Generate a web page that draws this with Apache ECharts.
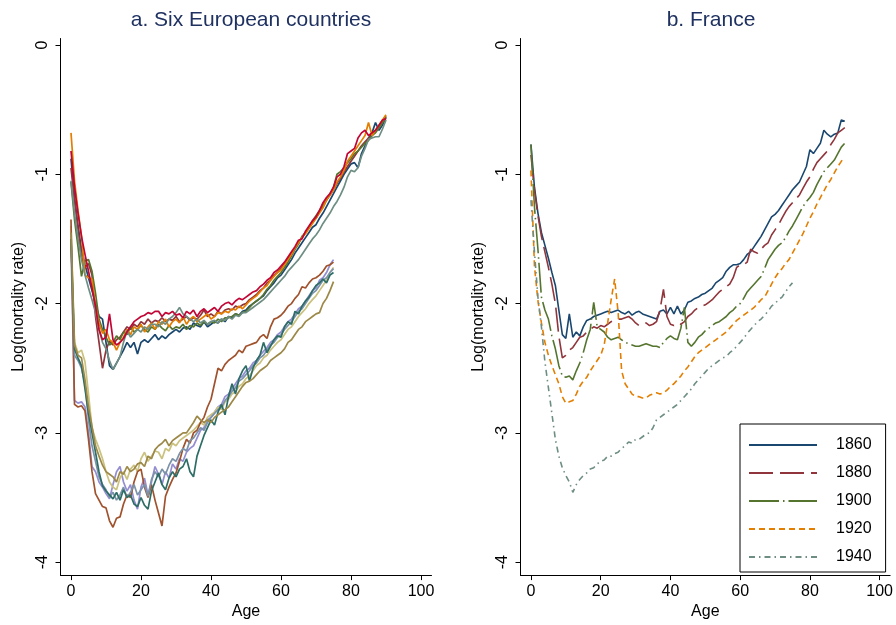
<!DOCTYPE html>
<html><head><meta charset="utf-8">
<script src="https://cdn.jsdelivr.net/npm/echarts@6/dist/echarts.min.js"></script>
<style>html,body{margin:0;padding:0;background:#fff}#c{width:896px;height:625px}</style>
</head><body><div id="c"></div>
<script>
// Panel a: six European countries, older cohort (ages 0-90)
const upperNavy = [-0.88,-1.18,-1.40,-1.58,-1.70,-1.80,-1.90,-2.00,-2.10,-2.12,-2.30,-2.48,-2.51,-2.46,-2.41,-2.36,-2.30,-2.34,-2.30,-2.39,-2.30,-2.28,-2.30,-2.27,-2.24,-2.28,-2.25,-2.27,-2.24,-2.22,-2.20,-2.22,-2.19,-2.18,-2.20,-2.15,-2.17,-2.18,-2.14,-2.18,-2.16,-2.14,-2.15,-2.12,-2.14,-2.10,-2.11,-2.08,-2.09,-2.06,-2.05,-2.02,-2.00,-1.98,-1.96,-1.94,-1.90,-1.87,-1.84,-1.80,-1.78,-1.74,-1.70,-1.66,-1.61,-1.57,-1.53,-1.49,-1.45,-1.41,-1.39,-1.34,-1.30,-1.25,-1.20,-1.15,-1.10,-1.05,-1.00,-0.96,-0.92,-0.91,-0.95,-0.84,-0.78,-0.72,-0.68,-0.60,-0.66,-0.62,-0.56];
const upperMaroon = [-0.95,-1.20,-1.42,-1.64,-1.72,-1.69,-1.78,-2.10,-2.30,-2.50,-2.36,-2.29,-2.32,-2.28,-2.26,-2.22,-2.18,-2.20,-2.16,-2.18,-2.14,-2.16,-2.12,-2.15,-2.13,-2.14,-2.11,-2.14,-2.12,-2.13,-2.10,-2.14,-2.12,-2.10,-2.13,-2.11,-2.12,-2.09,-2.05,-2.10,-2.08,-2.10,-2.06,-2.08,-2.05,-2.04,-2.05,-2.02,-2.03,-2.01,-2.00,-1.97,-1.95,-1.93,-1.90,-1.88,-1.84,-1.82,-1.78,-1.76,-1.73,-1.69,-1.65,-1.61,-1.57,-1.53,-1.49,-1.45,-1.41,-1.37,-1.34,-1.29,-1.25,-1.20,-1.16,-1.12,-1.07,-1.03,-0.98,-0.94,-0.90,-0.86,-0.82,-0.78,-0.75,-0.72,-0.70,-0.66,-0.63,-0.60,-0.55];
const upperGreen = [-1.06,-1.35,-1.56,-1.79,-1.67,-1.66,-1.75,-1.92,-2.12,-2.20,-2.26,-2.32,-2.30,-2.25,-2.28,-2.22,-2.24,-2.18,-2.22,-2.20,-2.17,-2.20,-2.22,-2.18,-2.20,-2.16,-2.19,-2.21,-2.17,-2.20,-2.18,-2.19,-2.16,-2.20,-2.17,-2.18,-2.15,-2.17,-2.14,-2.16,-2.14,-2.15,-2.12,-2.14,-2.11,-2.11,-2.10,-2.08,-2.09,-2.07,-2.06,-2.03,-2.00,-1.98,-1.96,-1.93,-1.89,-1.86,-1.82,-1.79,-1.76,-1.72,-1.68,-1.63,-1.58,-1.54,-1.48,-1.45,-1.41,-1.36,-1.32,-1.28,-1.24,-1.20,-1.15,-1.10,-1.00,-0.98,-0.95,-0.91,-0.88,-0.84,-0.82,-0.79,-0.76,-0.74,-0.70,-0.68,-0.64,-0.60,-0.56];
const upperOrange = [-0.68,-1.05,-1.28,-1.48,-1.78,-1.80,-1.81,-2.02,-2.15,-2.23,-2.20,-2.28,-2.30,-2.36,-2.30,-2.26,-2.20,-2.24,-2.18,-2.20,-2.16,-2.22,-2.18,-2.15,-2.20,-2.14,-2.16,-2.12,-2.18,-2.14,-2.12,-2.15,-2.10,-2.16,-2.12,-2.10,-2.14,-2.12,-2.10,-2.08,-2.12,-2.10,-2.07,-2.08,-2.06,-2.07,-2.04,-2.05,-2.02,-2.04,-2.01,-1.98,-1.96,-1.94,-1.91,-1.88,-1.86,-1.82,-1.79,-1.76,-1.74,-1.70,-1.66,-1.62,-1.57,-1.53,-1.49,-1.46,-1.42,-1.38,-1.34,-1.30,-1.26,-1.20,-1.16,-1.12,-1.06,-1.02,-0.97,-0.90,-0.86,-0.82,-0.78,-0.74,-0.70,-0.60,-0.70,-0.66,-0.62,-0.58,-0.54];
const upperTeal = [-1.05,-1.30,-1.50,-1.66,-1.78,-1.88,-1.97,-2.07,-2.20,-2.30,-2.35,-2.44,-2.51,-2.46,-2.41,-2.30,-2.21,-2.26,-2.23,-2.20,-2.22,-2.18,-2.20,-2.16,-2.16,-2.18,-2.14,-2.16,-2.12,-2.10,-2.07,-2.03,-2.08,-2.10,-2.12,-2.14,-2.12,-2.15,-2.13,-2.16,-2.14,-2.13,-2.15,-2.12,-2.13,-2.10,-2.12,-2.09,-2.10,-2.07,-2.07,-2.05,-2.03,-2.01,-1.99,-1.97,-1.94,-1.91,-1.88,-1.85,-1.82,-1.79,-1.75,-1.72,-1.69,-1.66,-1.62,-1.58,-1.54,-1.50,-1.47,-1.43,-1.38,-1.34,-1.30,-1.25,-1.21,-1.16,-1.10,-1.02,-0.97,-0.98,-0.95,-0.86,-0.80,-0.73,-0.72,-0.71,-0.71,-0.65,-0.58];
const upperRed = [-0.82,-1.10,-1.30,-1.48,-1.62,-1.75,-1.88,-2.02,-2.20,-2.28,-2.26,-2.08,-2.28,-2.32,-2.30,-2.27,-2.22,-2.18,-2.14,-2.12,-2.10,-2.09,-2.07,-2.08,-2.06,-2.06,-2.10,-2.07,-2.08,-2.06,-2.09,-2.08,-2.11,-2.06,-2.08,-2.05,-2.10,-2.06,-2.04,-2.07,-2.05,-2.03,-2.06,-2.02,-2.00,-1.99,-2.01,-1.98,-1.96,-1.97,-1.95,-1.93,-1.91,-1.90,-1.87,-1.85,-1.82,-1.80,-1.76,-1.74,-1.71,-1.68,-1.64,-1.60,-1.56,-1.51,-1.50,-1.44,-1.40,-1.36,-1.33,-1.28,-1.22,-1.18,-1.15,-1.10,-1.02,-1.00,-0.94,-0.84,-0.82,-0.80,-0.72,-0.68,-0.66,-0.70,-0.68,-0.66,-0.62,-0.58,-0.57];
// Panel a: younger cohort (ages 0-75)
const lowerLavender = [-1.55,-2.75,-2.77,-2.76,-2.80,-3.00,-3.26,-3.30,-3.38,-3.42,-3.47,-3.51,-3.40,-3.30,-3.26,-3.38,-3.45,-3.40,-3.52,-3.59,-3.42,-3.35,-3.48,-3.38,-3.26,-3.32,-3.40,-3.30,-3.35,-3.24,-3.28,-3.20,-3.22,-3.15,-3.12,-3.10,-3.04,-2.98,-2.96,-2.90,-2.88,-2.84,-2.80,-2.78,-2.72,-2.70,-2.66,-2.62,-2.58,-2.56,-2.52,-2.50,-2.46,-2.44,-2.40,-2.37,-2.34,-2.30,-2.28,-2.24,-2.22,-2.18,-2.14,-2.12,-2.08,-2.04,-2.02,-1.98,-1.94,-1.90,-1.88,-1.82,-1.80,-1.76,-1.70,-1.66];
const lowerKhaki = [-1.40,-2.30,-2.38,-2.36,-2.45,-2.70,-2.96,-3.05,-3.12,-3.20,-3.30,-3.38,-3.42,-3.44,-3.35,-3.30,-3.36,-3.28,-3.25,-3.30,-3.20,-3.15,-3.22,-3.18,-3.14,-3.15,-3.20,-3.12,-3.14,-3.08,-3.10,-3.06,-3.04,-3.02,-3.00,-2.98,-2.95,-2.92,-2.94,-2.88,-2.86,-2.84,-2.80,-2.82,-2.76,-2.74,-2.70,-2.68,-2.64,-2.62,-2.58,-2.56,-2.52,-2.48,-2.46,-2.42,-2.40,-2.36,-2.33,-2.30,-2.28,-2.24,-2.20,-2.18,-2.14,-2.10,-2.07,-2.04,-2.00,-1.97,-1.94,-1.90,-1.86,-1.82,-1.76,-1.72];
const lowerSienna = [-1.35,-2.78,-2.80,-2.79,-2.83,-3.05,-3.30,-3.47,-3.52,-3.57,-3.58,-3.68,-3.73,-3.66,-3.65,-3.55,-3.48,-3.50,-3.38,-3.30,-3.28,-3.42,-3.50,-3.40,-3.52,-3.62,-3.72,-3.49,-3.42,-3.36,-3.31,-3.22,-3.12,-3.05,-3.08,-3.00,-2.98,-2.92,-2.88,-2.80,-2.74,-2.62,-2.50,-2.52,-2.47,-2.44,-2.42,-2.40,-2.36,-2.38,-2.33,-2.32,-2.31,-2.30,-2.26,-2.24,-2.27,-2.18,-2.12,-2.11,-2.09,-2.06,-2.02,-2.00,-1.96,-1.93,-1.87,-1.88,-1.84,-1.81,-1.80,-1.78,-1.75,-1.71,-1.70,-1.68];
const lowerEmidblue = [-1.52,-2.40,-2.44,-2.50,-2.62,-2.90,-3.10,-3.22,-3.34,-3.40,-3.44,-3.50,-3.46,-3.52,-3.48,-3.42,-3.50,-3.46,-3.40,-3.48,-3.44,-3.40,-3.49,-3.36,-3.30,-3.34,-3.28,-3.32,-3.25,-3.20,-3.22,-3.16,-3.12,-3.14,-3.06,-3.04,-3.00,-2.96,-2.98,-2.92,-2.88,-2.85,-2.82,-2.80,-2.75,-2.72,-2.68,-2.65,-2.60,-2.58,-2.55,-2.52,-2.48,-2.46,-2.42,-2.40,-2.36,-2.32,-2.30,-2.26,-2.24,-2.20,-2.17,-2.14,-2.10,-2.06,-2.04,-2.00,-1.96,-1.92,-1.90,-1.86,-1.82,-1.80,-1.76,-1.73];
const lowerEmerald = [-1.50,-2.35,-2.42,-2.48,-2.66,-2.85,-3.00,-3.15,-3.30,-3.41,-3.45,-3.48,-3.51,-3.46,-3.52,-3.44,-3.50,-3.48,-3.55,-3.57,-3.50,-3.56,-3.59,-3.45,-3.38,-3.31,-3.40,-3.44,-3.35,-3.30,-3.34,-3.28,-3.26,-3.20,-3.30,-3.34,-3.18,-3.10,-3.02,-2.96,-2.90,-2.94,-2.84,-2.78,-2.86,-2.72,-2.62,-2.70,-2.58,-2.52,-2.48,-2.60,-2.50,-2.44,-2.40,-2.30,-2.38,-2.33,-2.28,-2.25,-2.26,-2.18,-2.14,-2.16,-2.06,-2.08,-2.02,-1.98,-1.95,-1.90,-1.86,-1.84,-1.81,-1.84,-1.78,-1.76];
const lowerBrown = [-1.45,-2.32,-2.40,-2.42,-2.59,-2.80,-2.95,-3.10,-3.18,-3.25,-3.30,-3.32,-3.34,-3.38,-3.30,-3.32,-3.26,-3.30,-3.28,-3.24,-3.23,-3.26,-3.18,-3.20,-3.13,-3.10,-3.08,-3.05,-3.10,-3.06,-3.04,-3.02,-3.00,-3.00,-2.96,-2.92,-2.87,-2.90,-2.92,-2.90,-2.92,-2.88,-2.86,-2.84,-2.82,-2.80,-2.76,-2.72,-2.68,-2.64,-2.61,-2.60,-2.58,-2.55,-2.52,-2.50,-2.48,-2.44,-2.42,-2.40,-2.38,-2.35,-2.30,-2.28,-2.24,-2.20,-2.18,-2.14,-2.12,-2.10,-2.08,-2.07,-2.00,-1.96,-1.90,-1.83];
// Panel b: France by birth cohort
const france1860 = [-0.77,-1.10,-1.30,-1.45,-1.55,-1.65,-1.76,-1.86,-2.05,-2.24,-2.27,-2.08,-2.26,-2.22,-2.25,-2.18,-2.13,-2.12,-2.10,-2.09,-2.08,-2.07,-2.06,-2.07,-2.06,-2.05,-2.07,-2.08,-2.06,-2.09,-2.07,-2.06,-2.08,-2.09,-2.10,-2.11,-2.12,-2.06,-2.05,-2.08,-2.03,-2.08,-2.02,-2.08,-2.05,-1.99,-1.98,-1.96,-1.95,-1.93,-1.92,-1.90,-1.88,-1.84,-1.82,-1.80,-1.75,-1.72,-1.70,-1.70,-1.69,-1.66,-1.62,-1.60,-1.56,-1.52,-1.48,-1.43,-1.38,-1.33,-1.31,-1.28,-1.24,-1.20,-1.16,-1.12,-1.09,-1.06,-1.00,-0.94,-0.81,-0.84,-0.80,-0.76,-0.66,-0.69,-0.71,-0.69,-0.68,-0.58,-0.59];
const france1880 = [-0.85,-1.12,-1.32,-1.48,-1.60,-1.72,-1.85,-2.00,-2.25,-2.42,-2.40,-2.36,-2.34,-2.30,-2.26,-2.25,-2.22,-2.20,-2.18,-2.19,-2.17,-2.18,-2.16,-2.14,-2.13,-2.12,-2.12,-2.11,-2.10,-2.12,-2.15,-2.17,-2.16,-2.15,-2.17,-2.16,-2.14,-2.05,-1.89,-2.10,-2.16,-2.17,-2.15,-2.16,-2.14,-2.10,-2.08,-2.05,-2.03,-2.02,-2.01,-1.99,-1.97,-1.94,-1.91,-1.89,-1.87,-1.85,-1.80,-1.72,-1.70,-1.70,-1.68,-1.58,-1.60,-1.61,-1.58,-1.55,-1.53,-1.47,-1.43,-1.39,-1.34,-1.29,-1.25,-1.22,-1.19,-1.16,-1.11,-1.06,-1.02,-0.96,-0.91,-0.88,-0.85,-0.82,-0.77,-0.73,-0.68,-0.66,-0.64];
const france1900 = [-0.77,-1.25,-1.58,-1.95,-2.05,-2.12,-2.25,-2.35,-2.48,-2.56,-2.57,-2.56,-2.59,-2.52,-2.46,-2.38,-2.28,-2.20,-1.99,-2.18,-2.20,-2.22,-2.26,-2.28,-2.27,-2.26,-2.28,-2.30,-2.31,-2.32,-2.33,-2.33,-2.32,-2.31,-2.32,-2.33,-2.33,-2.34,-2.30,-2.27,-2.25,-2.27,-2.28,-2.19,-2.03,-2.30,-2.33,-2.30,-2.26,-2.24,-2.21,-2.19,-2.17,-2.15,-2.14,-2.12,-2.10,-2.07,-2.05,-2.02,-2.00,-1.96,-1.91,-1.88,-1.85,-1.82,-1.79,-1.73,-1.66,-1.62,-1.58,-1.55,-1.53,-1.49,-1.44,-1.40,-1.35,-1.30,-1.25,-1.21,-1.18,-1.14,-1.08,-1.03,-0.98,-0.95,-0.92,-0.89,-0.84,-0.79,-0.76];
const france1920 = [-0.97,-1.71,-1.98,-2.15,-2.30,-2.40,-2.48,-2.55,-2.62,-2.72,-2.77,-2.76,-2.75,-2.70,-2.64,-2.60,-2.57,-2.52,-2.48,-2.44,-2.40,-2.32,-2.15,-1.97,-1.81,-2.07,-2.52,-2.62,-2.66,-2.70,-2.72,-2.72,-2.73,-2.73,-2.71,-2.70,-2.69,-2.70,-2.69,-2.67,-2.64,-2.62,-2.59,-2.56,-2.52,-2.49,-2.45,-2.41,-2.38,-2.36,-2.34,-2.32,-2.30,-2.28,-2.26,-2.24,-2.22,-2.19,-2.16,-2.13,-2.11,-2.09,-2.07,-2.05,-2.03,-2.00,-1.97,-1.95,-1.90,-1.85,-1.80,-1.76,-1.73,-1.69,-1.66,-1.61,-1.56,-1.51,-1.46,-1.40,-1.34,-1.29,-1.23,-1.18,-1.13,-1.08,-1.04,-0.99,-0.94,-0.90,-0.87];
const france1940 = [-1.20,-1.60,-1.95,-2.18,-2.45,-2.65,-2.85,-3.05,-3.18,-3.27,-3.33,-3.38,-3.46,-3.40,-3.36,-3.33,-3.31,-3.28,-3.27,-3.24,-3.22,-3.21,-3.18,-3.18,-3.16,-3.15,-3.12,-3.10,-3.07,-3.08,-3.05,-3.05,-3.03,-3.01,-3.00,-2.96,-2.90,-2.88,-2.86,-2.84,-2.82,-2.80,-2.78,-2.75,-2.72,-2.69,-2.66,-2.62,-2.59,-2.56,-2.53,-2.50,-2.48,-2.46,-2.44,-2.42,-2.41,-2.38,-2.36,-2.33,-2.30,-2.27,-2.23,-2.20,-2.17,-2.14,-2.12,-2.09,-2.06,-2.02,-2.00,-1.97,-1.95,-1.91,-1.87,-1.84];
const cohortLabels = ['1860','1880','1900','1920','1940'];
const xTicks = [0, 20, 40, 60, 80, 100];
const yTicks = [-4, -3, -2, -1, 0];

const FONT = '"Liberation Sans", Arial, sans-serif';
const toPts = arr => arr.map((v, i) => [i, v]);

function makeX(idx) {
  return {
    type: 'value', gridIndex: idx, min: -3, max: 103,
    name: 'Age', nameLocation: 'middle', nameGap: 28,
    nameTextStyle: { fontSize: 16, color: '#000', fontFamily: FONT },
    axisLine: { show: true, onZero: false, lineStyle: { color: '#000', width: 1 } },
    axisTick: { show: true, length: 5, customValues: xTicks, lineStyle: { color: '#000' } },
    axisLabel: { customValues: xTicks, fontSize: 16, color: '#000', fontFamily: FONT, margin: 8 },
    splitLine: { show: false }
  };
}
function makeY(idx) {
  return {
    type: 'value', gridIndex: idx, min: -4.1, max: 0.05,
    name: 'Log(mortality rate)', nameLocation: 'middle', nameGap: 34,
    nameTextStyle: { fontSize: 16, color: '#000', fontFamily: FONT },
    axisLine: { show: true, onZero: false, lineStyle: { color: '#000', width: 1 } },
    axisTick: { show: true, length: 5, customValues: yTicks, lineStyle: { color: '#000' } },
    axisLabel: { customValues: yTicks, rotate: 90, fontSize: 16, color: '#000', fontFamily: FONT, margin: 10 },
    splitLine: { show: false }
  };
}

function line(name, data, color, idx, type, width) {
  return {
    name: name, type: 'line', xAxisIndex: idx, yAxisIndex: idx,
    data: toPts(data), showSymbol: false, symbol: 'none', silent: true,
    lineStyle: { color: color, width: width || 1.7, type: type || 'solid', cap: 'butt' },
    itemStyle: { color: color }
  };
}

const series = [
  line('a1', upperNavy, '#1a476f', 0),
  line('a2', upperMaroon, '#90353b', 0),
  line('a3', upperGreen, '#55752f', 0),
  line('a4', upperOrange, '#e37e00', 0),
  line('a5', upperTeal, '#6e8e84', 0),
  line('a6', upperRed, '#c10534', 0),
  line('b1', lowerLavender, '#938dd2', 0),
  line('b2', lowerKhaki, '#cac27e', 0),
  line('b3', lowerSienna, '#a0522d', 0),
  line('b4', lowerEmidblue, '#7b92a8', 0),
  line('b5', lowerEmerald, '#2d6d66', 0),
  line('b6', lowerBrown, '#9c8847', 0),
  line(cohortLabels[0], france1860, '#1a476f', 1, 'solid', 1.6),
  line(cohortLabels[1], france1880, '#90353b', 1, [24, 7], 1.6),
  line(cohortLabels[2], france1900, '#55752f', 1, [30, 4, 1.5, 4], 1.6),
  line(cohortLabels[3], france1920, '#e37e00', 1, [6, 4], 1.6),
  line(cohortLabels[4], france1940, '#6e8e84', 1, [6, 4, 1.5, 4], 1.6)
];

const chart = echarts.init(document.getElementById('c'), null, { renderer: 'canvas' });
chart.setOption({
  animation: false,
  backgroundColor: '#fff',
  title: [
    { text: 'a. Six European countries', left: 246, top: 5, textAlign: 'center',
      textStyle: { fontSize: 21, fontWeight: 'normal', color: '#1f3160', fontFamily: FONT } },
    { text: 'b. France', left: 706, top: 5, textAlign: 'center',
      textStyle: { fontSize: 21, fontWeight: 'normal', color: '#1f3160', fontFamily: FONT } }
  ],
  grid: [
    { left: 60.5, top: 38.5, width: 371, height: 537.5 },
    { left: 520.5, top: 38.5, width: 371, height: 537.5 }
  ],
  xAxis: [makeX(0), makeX(1)],
  yAxis: [makeY(0), makeY(1)],
  legend: {
    data: cohortLabels, orient: 'vertical', left: 740, top: 424,
    itemWidth: 68, itemHeight: 14, itemGap: 12,
    padding: [13, 14, 7, 8],
    backgroundColor: '#fff', borderColor: '#000', borderWidth: 1,
    selectedMode: false,
    itemStyle: { opacity: 0 },
    textStyle: { fontSize: 16, color: '#000', fontFamily: FONT, padding: [0, 0, 0, 14] }
  },
  series: series
});
</script></body></html>
